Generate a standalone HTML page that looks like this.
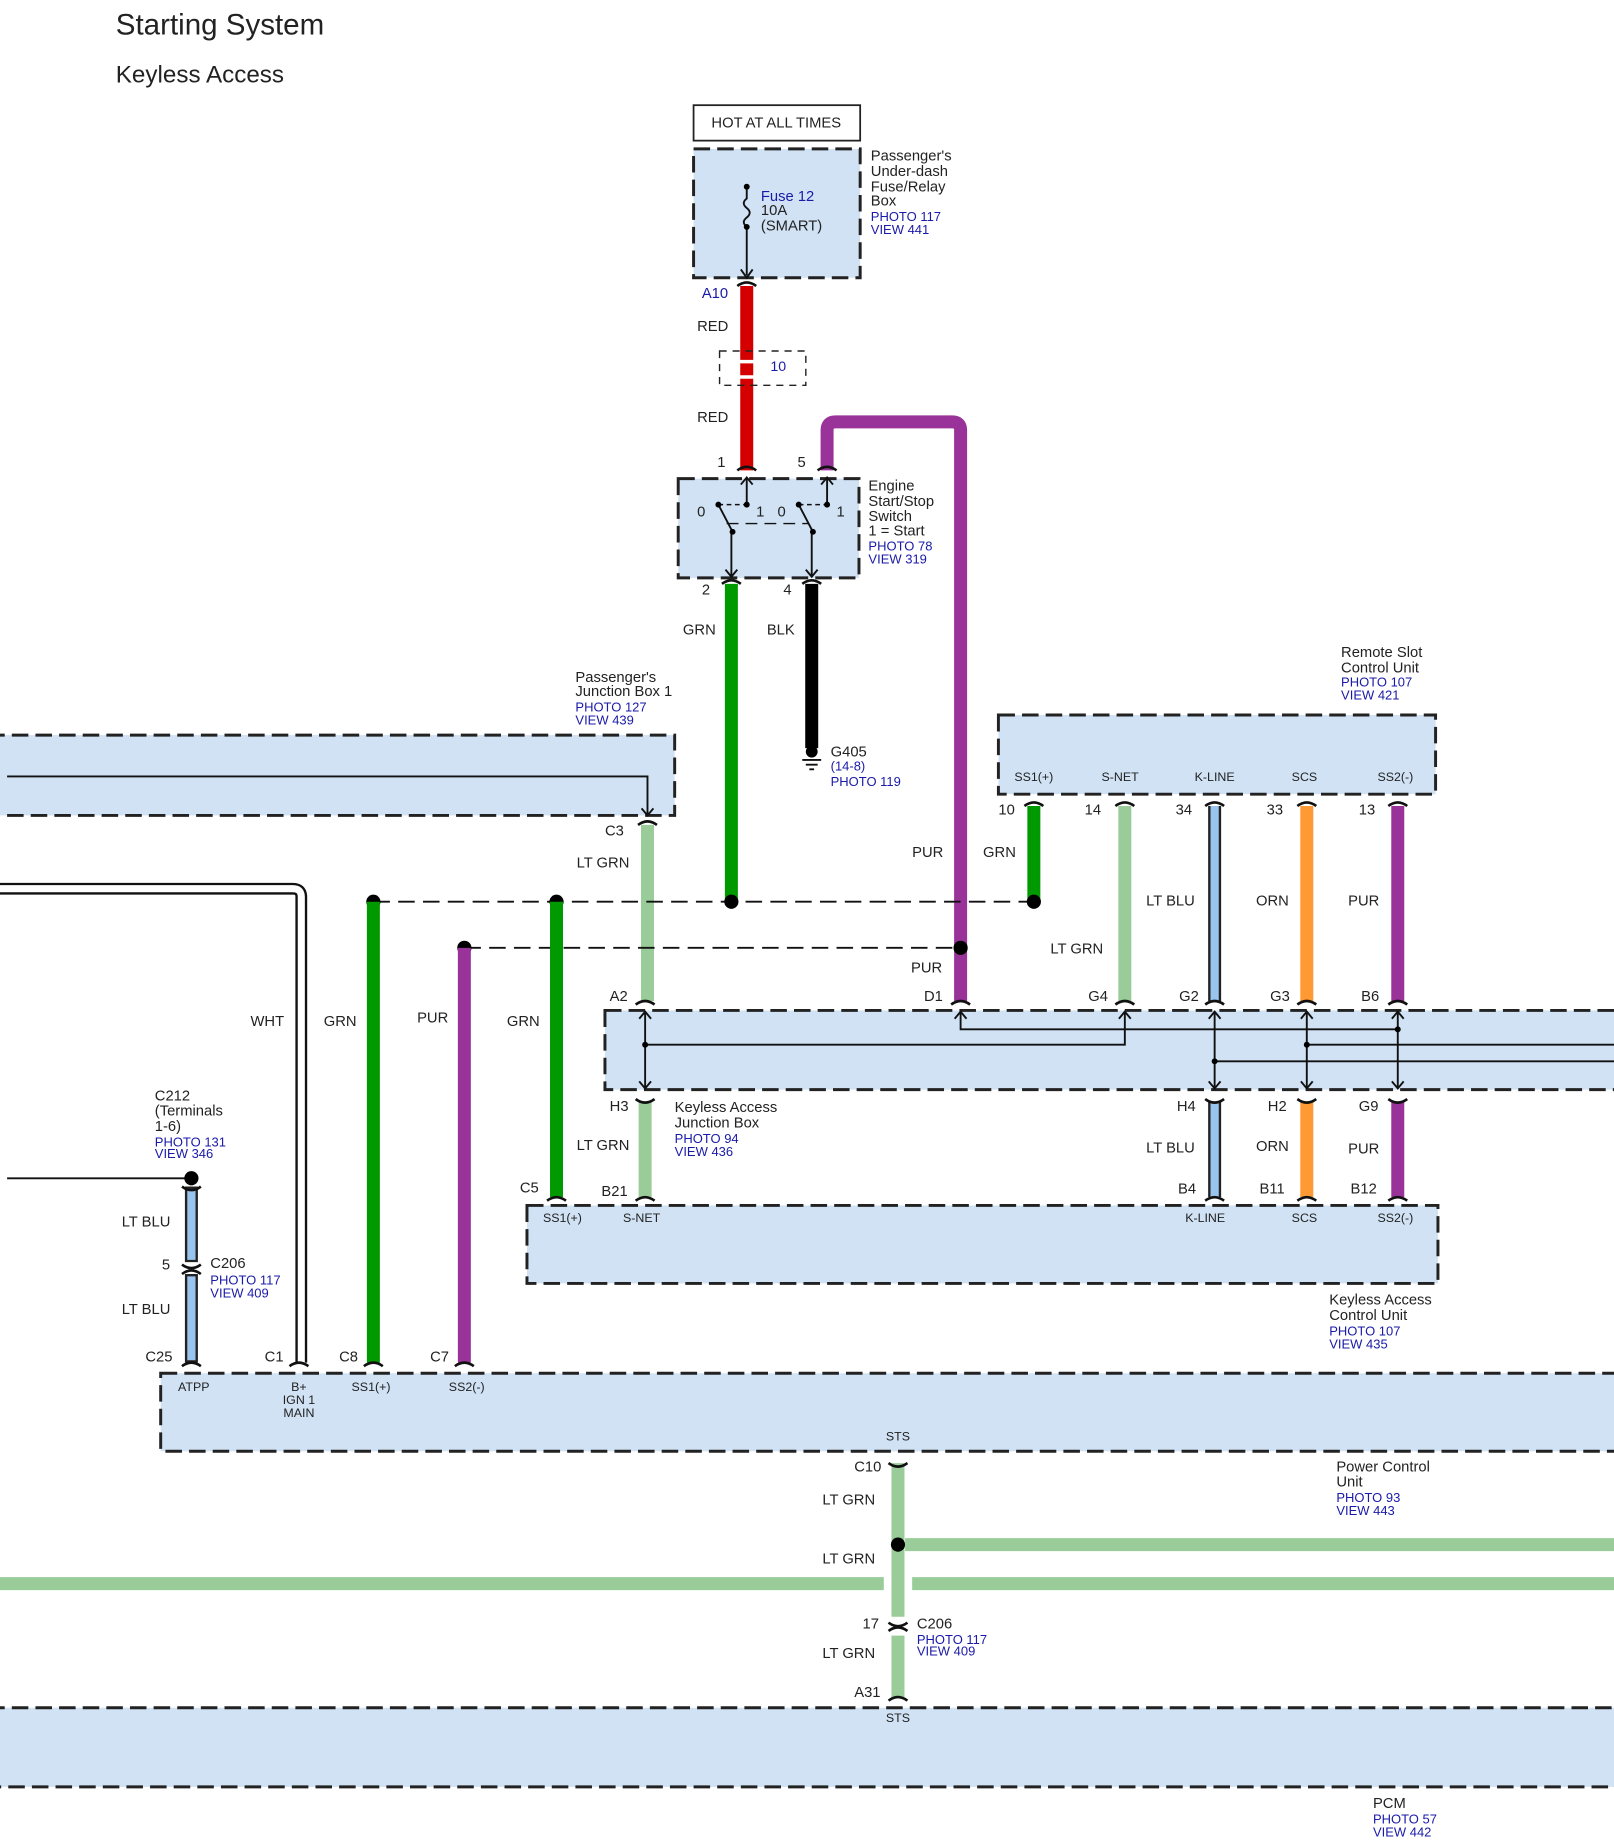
<!DOCTYPE html>
<html><head><meta charset="utf-8"><style>
html,body{margin:0;padding:0;background:#fff}
svg{display:block}
text{font-family:"Liberation Sans",sans-serif;font-size:12.5px;fill:#222}
.b{fill:#1a1aa8;font-size:11px}
.s{font-size:10.5px}
.box{fill:#d0e2f4;stroke:#222;stroke-width:2.5;stroke-dasharray:14 6}
.ln{stroke:#111;stroke-width:1.6;fill:none}
.dl{stroke:#111;stroke-width:1.6;stroke-dasharray:14 7;fill:none}
.cap{stroke:#111;stroke-width:2.2;fill:none}
</style></head><body>
<svg width="1614" height="1846" viewBox="0 0 1366 1562" preserveAspectRatio="none" xmlns="http://www.w3.org/2000/svg">
<rect width="1366" height="1562" fill="#fff"/>
<text x="98" y="29" style="font-size:25px">Starting System</text>
<text x="98" y="70" style="font-size:20.5px">Keyless Access</text>

<!-- boxes -->
<rect x="587" y="89" width="141" height="30" fill="#fff" stroke="#222" stroke-width="1.5"/>
<text x="657" y="108" text-anchor="middle">HOT AT ALL TIMES</text>
<rect class="box" x="587" y="126" width="141" height="109"/>
<rect class="box" x="574" y="405" width="153" height="84"/>
<rect class="box" x="-10" y="622" width="581" height="68"/>
<rect class="box" x="845" y="605" width="370" height="67"/>
<rect class="box" x="512" y="855" width="870" height="67"/>
<rect class="box" x="446" y="1020" width="771" height="66"/>
<rect class="box" x="136" y="1162" width="1246" height="66"/>
<rect class="box" x="-10" y="1445" width="1392" height="67"/>

<!-- fuse -->
<path class="ln" d="M632 158 V168 q-5 4 0 8 q5 4 0 8 q-5 4 0 8 V233"/>
<circle cx="632" cy="158" r="2.5"/><circle cx="632" cy="192" r="2.5"/>
<path class="ln" d="M627 228 L632 235 L637 228"/>
<text x="644" y="170" class="b" style="font-size:12.5px">Fuse 12</text>
<text x="644" y="182">10A</text><text x="644" y="195">(SMART)</text>
<text x="737" y="136">Passenger's</text><text x="737" y="149">Under-dash</text><text x="737" y="162">Fuse/Relay</text><text x="737" y="174">Box</text>
<text x="737" y="187" class="b">PHOTO 117</text><text x="737" y="198" class="b">VIEW 441</text>

<!-- red wire -->
<text x="594" y="252" class="b" style="font-size:12.5px">A10</text>
<path d="M632 242 V398" stroke="#d40000" stroke-width="11"/>
<path d="M620 306 H644 M620 319 H644" stroke="#fff" stroke-width="3"/>
<rect x="609" y="297" width="73" height="29" fill="none" stroke="#222" stroke-width="1.2" stroke-dasharray="6 5"/>
<text x="652" y="314" class="b" style="font-size:12px">10</text>
<text x="590" y="280">RED</text><text x="590" y="357">RED</text>
<text x="607" y="395">1</text><text x="675" y="395">5</text>

<path d="M700 398 V364 Q700 357 707 357 H806 Q813 357 813 364 V847" stroke="#993399" stroke-width="11" fill="none"/>

<!-- switch internals -->
<path class="ln" d="M632 404 V427 M700 404 V427"/>
<path class="ln" d="M627 410 L632 404 L637 410 M695 410 L700 404 L705 410"/>
<path d="M608 427 L632 427 M676 427 L700 427" stroke="#111" stroke-width="1.2" stroke-dasharray="4 3"/>
<path class="ln" d="M608 427 L620 450 M676 427 L688 450"/>
<path d="M615 443 H684" stroke="#111" stroke-width="1.2" stroke-dasharray="10 6"/>
<path class="ln" d="M619 450 V488 M687 450 V488 M614 482 L619 488 L624 482 M682 482 L687 488 L692 482"/>
<circle cx="608" cy="427" r="2.5"/><circle cx="632" cy="427" r="2.5"/><circle cx="676" cy="427" r="2.5"/><circle cx="700" cy="427" r="2.5"/>
<circle cx="620" cy="450" r="2.5"/><circle cx="688" cy="450" r="2.5"/>
<text x="590" y="437">0</text><text x="640" y="437">1</text><text x="658" y="437">0</text><text x="708" y="437">1</text>
<text x="735" y="415">Engine</text><text x="735" y="428">Start/Stop</text><text x="735" y="441">Switch</text><text x="735" y="453">1 = Start</text>
<text x="735" y="466" class="b">PHOTO 78</text><text x="735" y="477" class="b">VIEW 319</text>

<text x="594" y="503">2</text><text x="663" y="503">4</text>
<path d="M619 494 V763" stroke="#009900" stroke-width="11"/>
<path d="M687 494 V633" stroke="#000" stroke-width="11"/>
<circle cx="687" cy="636" r="5"/>
<path class="ln" d="M679 643 H695 M682 647 H692 M685 651 H689"/>
<text x="578" y="537">GRN</text><text x="649" y="537">BLK</text>
<text x="703" y="640">G405</text><text x="703" y="652" class="b">(14-8)</text><text x="703" y="665" class="b">PHOTO 119</text>

<text x="487" y="577">Passenger's</text><text x="487" y="589">Junction Box 1</text>
<text x="487" y="602" class="b">PHOTO 127</text><text x="487" y="613" class="b">VIEW 439</text>
<path class="ln" d="M6 657 H548 V690 M543 684 L548 690 L553 684"/>
<text x="512" y="707">C3</text>
<path d="M548 698 V847" stroke="#99cc99" stroke-width="11"/>
<text x="488" y="734">LT GRN</text>

<text x="1135" y="556">Remote Slot</text><text x="1135" y="569">Control Unit</text>
<text x="1135" y="581" class="b">PHOTO 107</text><text x="1135" y="592" class="b">VIEW 421</text>
<text x="875" y="661" text-anchor="middle" class="s">SS1(+)</text><text x="948" y="661" text-anchor="middle" class="s">S-NET</text><text x="1028" y="661" text-anchor="middle" class="s">K-LINE</text><text x="1104" y="661" text-anchor="middle" class="s">SCS</text><text x="1181" y="661" text-anchor="middle" class="s">SS2(-)</text>
<text x="845" y="689">10</text><text x="918" y="689">14</text><text x="995" y="689">34</text><text x="1072" y="689">33</text><text x="1150" y="689">13</text>
<path d="M875 682 V763" stroke="#009900" stroke-width="11"/>
<path d="M952 682 V847" stroke="#99cc99" stroke-width="11"/>
<path d="M1028 682 V847" stroke="#222" stroke-width="11"/><path d="M1028 682 V847" stroke="#99c4ee" stroke-width="7"/>
<path d="M1106 682 V847" stroke="#ff9933" stroke-width="11"/>
<path d="M1183 682 V847" stroke="#993399" stroke-width="11"/>
<text x="772" y="725">PUR</text><text x="832" y="725">GRN</text><text x="889" y="807">LT GRN</text>
<text x="970" y="766">LT BLU</text><text x="1063" y="766">ORN</text><text x="1141" y="766">PUR</text><text x="771" y="823">PUR</text>

<path class="dl" d="M316 763 H875"/>
<path class="dl" d="M393 802 H813"/>
<circle cx="316" cy="763" r="6"/><circle cx="471" cy="763" r="6"/><circle cx="619" cy="763" r="6"/><circle cx="875" cy="763" r="6"/>
<circle cx="393" cy="802" r="6"/><circle cx="813" cy="802" r="6" fill="#000"/>

<text x="516" y="847">A2</text><text x="782" y="847">D1</text><text x="921" y="847">G4</text><text x="998" y="847">G2</text><text x="1075" y="847">G3</text><text x="1152" y="847">B6</text>
<path class="ln" d="M546 856 V921 M541 862 L546 856 L551 862 M541 915 L546 921 L551 915"/>
<path class="ln" d="M546 884 H952 V856 M947 862 L952 856 L957 862"/>
<path class="ln" d="M813 856 V871 H1183 M808 862 L813 856 L818 862"/>
<path class="ln" d="M1028 856 V921 M1106 856 V921 M1183 856 V921"/>
<path class="ln" d="M1023 862 L1028 856 L1033 862 M1023 915 L1028 921 L1033 915 M1101 862 L1106 856 L1111 862 M1101 915 L1106 921 L1111 915 M1178 862 L1183 856 L1188 862 M1178 915 L1183 921 L1188 915"/>
<path class="ln" d="M1106 884 H1366 M1028 898 H1366"/>
<circle cx="546" cy="884" r="2.5"/><circle cx="1183" cy="871" r="2.5"/><circle cx="1106" cy="884" r="2.5"/><circle cx="1028" cy="898" r="2.5"/>
<text x="516" y="940">H3</text><text x="996" y="940">H4</text><text x="1073" y="940">H2</text><text x="1150" y="940">G9</text>
<text x="571" y="941">Keyless Access</text><text x="571" y="954">Junction Box</text>
<text x="571" y="967" class="b">PHOTO 94</text><text x="571" y="978" class="b">VIEW 436</text>
<path d="M546 932 V1013" stroke="#99cc99" stroke-width="11"/>
<path d="M1028 932 V1013" stroke="#222" stroke-width="11"/><path d="M1028 932 V1013" stroke="#99c4ee" stroke-width="7"/>
<path d="M1106 932 V1013" stroke="#ff9933" stroke-width="11"/>
<path d="M1183 932 V1013" stroke="#993399" stroke-width="11"/>
<text x="488" y="973">LT GRN</text><text x="970" y="975">LT BLU</text><text x="1063" y="974">ORN</text><text x="1141" y="976">PUR</text>
<text x="509" y="1012">B21</text><text x="997" y="1010">B4</text><text x="1066" y="1010">B11</text><text x="1143" y="1010">B12</text><text x="440" y="1009">C5</text>
<path d="M471 763 V1013" stroke="#009900" stroke-width="11"/>
<text x="476" y="1034" text-anchor="middle" class="s">SS1(+)</text><text x="543" y="1034" text-anchor="middle" class="s">S-NET</text><text x="1020" y="1034" text-anchor="middle" class="s">K-LINE</text><text x="1104" y="1034" text-anchor="middle" class="s">SCS</text><text x="1181" y="1034" text-anchor="middle" class="s">SS2(-)</text>
<text x="1125" y="1104">Keyless Access</text><text x="1125" y="1117">Control Unit</text>
<text x="1125" y="1130" class="b">PHOTO 107</text><text x="1125" y="1141" class="b">VIEW 435</text>

<!-- WHT wire -->
<path d="M0 752 H248 Q255 752 255 759 V1153" stroke="#111" stroke-width="10" fill="none"/>
<path d="M0 752 H248 Q255 752 255 759 V1153" stroke="#fff" stroke-width="6" fill="none"/>
<path d="M316 763 V1153" stroke="#009900" stroke-width="11"/>
<path d="M393 802 V1153" stroke="#993399" stroke-width="11"/>
<text x="212" y="868">WHT</text><text x="274" y="868">GRN</text><text x="353" y="865">PUR</text><text x="429" y="868">GRN</text>
<text x="131" y="931">C212</text><text x="131" y="944">(Terminals</text><text x="131" y="957">1-6)</text>
<text x="131" y="970" class="b">PHOTO 131</text><text x="131" y="980" class="b">VIEW 346</text>
<path class="ln" d="M6 997 H162"/><circle cx="162" cy="997" r="6"/>
<path d="M162 1004 V1068 M162 1078 V1153" stroke="#222" stroke-width="11"/>
<path d="M162 1006 V1066 M162 1080 V1151" stroke="#99c4ee" stroke-width="7"/>
<text x="137" y="1074">5</text><text x="178" y="1073">C206</text>
<text x="178" y="1087" class="b">PHOTO 117</text><text x="178" y="1098" class="b">VIEW 409</text>
<text x="103" y="1038">LT BLU</text><text x="103" y="1112">LT BLU</text>
<text x="123" y="1152">C25</text><text x="224" y="1152">C1</text><text x="287" y="1152">C8</text><text x="364" y="1152">C7</text>
<text x="164" y="1177" text-anchor="middle" class="s">ATPP</text>
<text x="253" y="1177" text-anchor="middle" class="s">B+</text><text x="253" y="1188" text-anchor="middle" class="s">IGN 1</text><text x="253" y="1199" text-anchor="middle" class="s">MAIN</text>
<text x="314" y="1177" text-anchor="middle" class="s">SS1(+)</text><text x="395" y="1177" text-anchor="middle" class="s">SS2(-)</text>
<text x="760" y="1219" text-anchor="middle" class="s">STS</text>

<text x="723" y="1245">C10</text>
<path d="M760 1238 V1368 M760 1384 V1437" stroke="#99cc99" stroke-width="11"/>
<path d="M766 1307 H1366" stroke="#99cc99" stroke-width="11"/>
<path d="M0 1340 H748 M772 1340 H1366" stroke="#99cc99" stroke-width="11"/>
<circle cx="760" cy="1307" r="6"/>
<text x="696" y="1273">LT GRN</text><text x="696" y="1323">LT GRN</text><text x="696" y="1403">LT GRN</text>
<text x="730" y="1378">17</text><text x="776" y="1378">C206</text>
<text x="776" y="1391" class="b">PHOTO 117</text><text x="776" y="1401" class="b">VIEW 409</text>
<text x="723" y="1436">A31</text>
<text x="760" y="1457" text-anchor="middle" class="s">STS</text>
<text x="1131" y="1245">Power Control</text><text x="1131" y="1258">Unit</text>
<text x="1131" y="1271" class="b">PHOTO 93</text><text x="1131" y="1282" class="b">VIEW 443</text>
<text x="1162" y="1530">PCM</text><text x="1162" y="1543" class="b">PHOTO 57</text><text x="1162" y="1554" class="b">VIEW 442</text>

<g class="cap">
<path d="M624 242 q8 -6 16 0 M692 398 q8 -6 16 0 M624 398 q8 -6 16 0"/>
<path d="M611 494 q8 -6 16 0 M679 494 q8 -6 16 0"/>
<path d="M540 698 q8 -6 16 0 M867 682 q8 -6 16 0 M944 682 q8 -6 16 0 M1020 682 q8 -6 16 0 M1098 682 q8 -6 16 0 M1175 682 q8 -6 16 0"/>
<path d="M538 850 q8 -6 16 0 M805 850 q8 -6 16 0 M944 850 q8 -6 16 0 M1020 850 q8 -6 16 0 M1098 850 q8 -6 16 0 M1175 850 q8 -6 16 0"/>
<path d="M538 930 q8 6 16 0 M1020 930 q8 6 16 0 M1098 930 q8 6 16 0 M1175 930 q8 6 16 0"/>
<path d="M538 1016 q8 -6 16 0 M463 1016 q8 -6 16 0 M1020 1016 q8 -6 16 0 M1098 1016 q8 -6 16 0 M1175 1016 q8 -6 16 0"/>
<path d="M154 1004 q8 6 16 0 M154 1070 q8 6 16 0 M154 1078 q8 -6 16 0"/>
<path d="M154 1156 q8 -6 16 0 M245 1156 q8 -6 16 0 M308 1156 q8 -6 16 0 M385 1156 q8 -6 16 0"/>
<path d="M752 1238 q8 6 16 0 M752 1373 q8 6 16 0 M752 1380 q8 -6 16 0 M752 1439 q8 -6 16 0"/>
</g>
</svg>
</body></html>
